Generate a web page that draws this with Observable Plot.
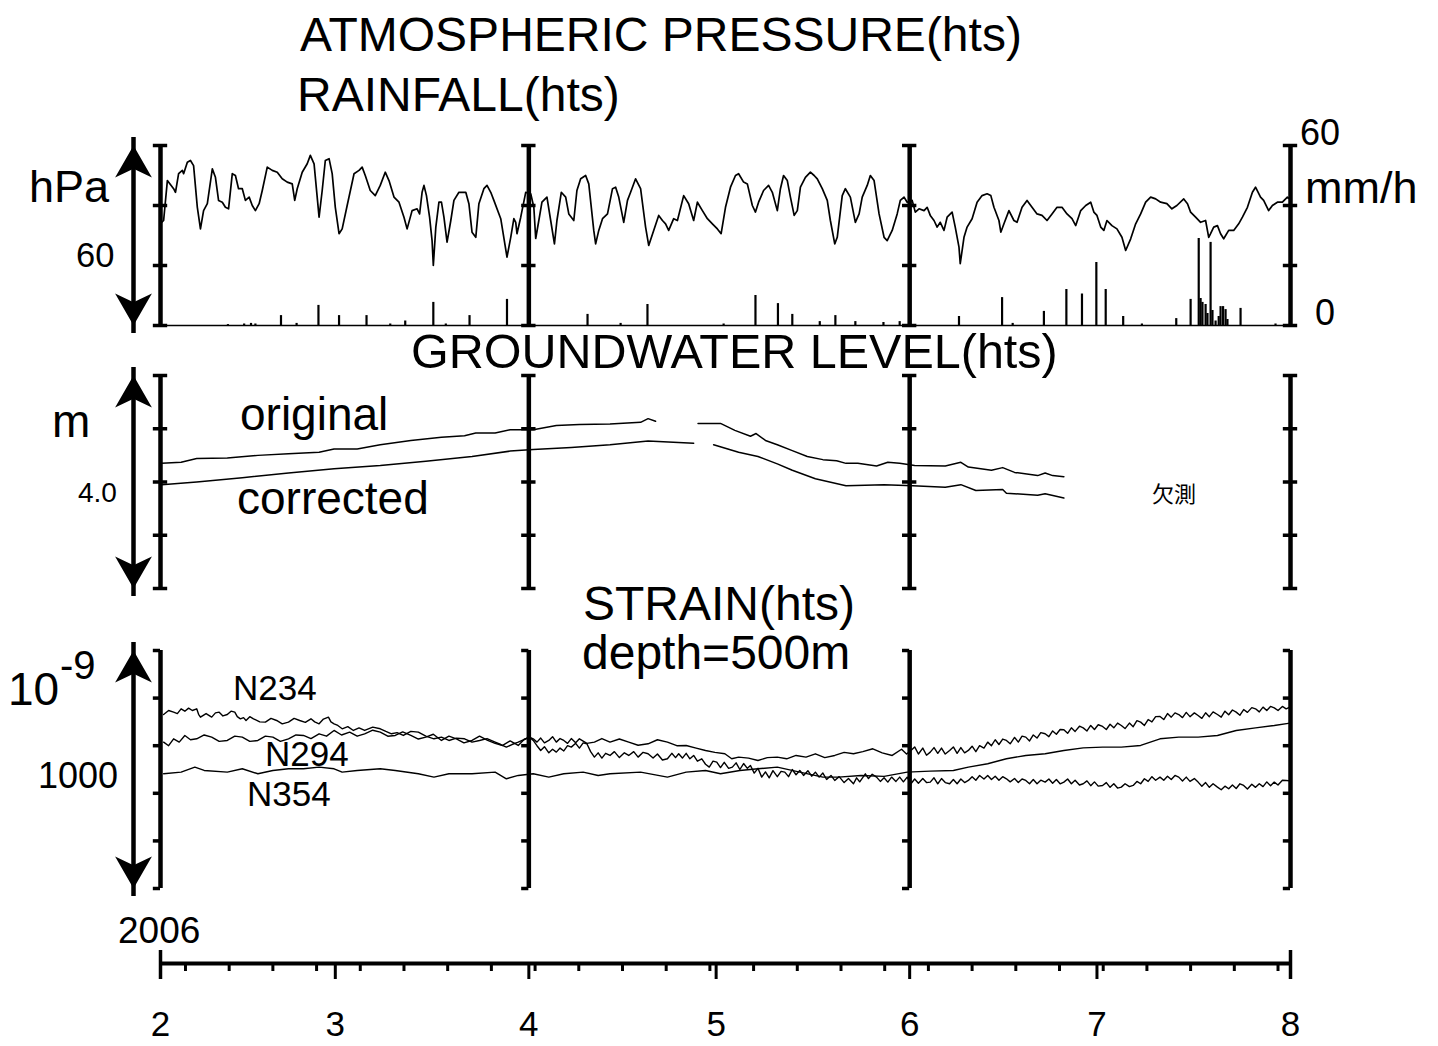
<!DOCTYPE html>
<html><head><meta charset="utf-8">
<script src="https://cdn.jsdelivr.net/npm/d3@7"></script>
<script src="https://cdn.jsdelivr.net/npm/@observablehq/plot@0.6"></script>
<style>
body{margin:0;background:#fff;}
#page{position:relative;width:1438px;height:1046px;overflow:hidden;font-family:"Liberation Sans",Arial,Helvetica,sans-serif;color:#000;background:#fff;}
.lbl{position:absolute;line-height:1;white-space:nowrap;}
</style></head><body><div id="page"></div>
<script>
// ---------- data ----------
const startDate = "2006-02-01";
const monthStarts = ["2006-02-01","2006-03-01","2006-04-01","2006-05-01","2006-06-01","2006-07-01","2006-08-01"];
const monthLabels = ["2","3","4","5","6","7","8"];
const barDays = [0, 59, 120, 181];          // Feb 1, Apr 1, Jun 1, Aug 1
const pressureTicks = [970, 990, 1010, 1030]; // hPa (span 60)
const rainTicks = [0, 60];                    // mm/h
const gwTicks = [0, 1, 2, 3, 4];              // m
const strainTicks = [0, 200, 400, 600, 800, 1000]; // 1e-9

// [days since Feb 1, hPa]
const pressure = [[0,1004],[0.5,1005],[1.1,1018.3],[2.1,1015.6],[2.4,1014.4],[2.9,1020.6],[3.5,1021.7],[3.7,1020.6],[4.3,1024.4],[4.8,1025],[5.3,1023.3],[5.9,1009.4],[6.4,1002.2],[6.9,1008.3],[7.5,1010.6],[8.3,1022.2],[8.8,1019.4],[9.3,1011.7],[9.9,1011.1],[10.4,1009.4],[10.9,1008.9],[11.5,1020.6],[12.0,1020],[12.5,1015.6],[13.1,1015.6],[13.6,1011.7],[14.2,1012.8],[14.7,1010],[15.2,1008.3],[15.8,1010.6],[16.3,1015],[17.1,1022.8],[17.9,1021.7],[18.7,1021.1],[19.5,1018.9],[20.3,1017.8],[21.1,1017.2],[21.5,1011.7],[21.9,1015.6],[22.7,1021.1],[23.5,1023.9],[24.0,1026.7],[24.6,1023.9],[25.4,1006.1],[25.9,1015],[26.4,1025],[27.0,1025.6],[27.5,1020.6],[28.0,1009.4],[28.6,1000.6],[29.1,1002.2],[29.9,1010],[31.0,1020.6],[31.8,1021.7],[32.3,1022.8],[32.8,1020],[33.6,1015],[34.4,1013.3],[35.2,1016.7],[36.0,1021.1],[36.6,1018.3],[37.4,1012.8],[38.2,1011.1],[39.0,1006.1],[39.5,1002.2],[40.3,1008.3],[41.1,1008.9],[41.5,1007.2],[41.9,1014.4],[42.2,1016.7],[42.6,1013.3],[43.1,1006.1],[43.5,998.3],[43.7,990],[44.1,1002.8],[44.6,1011.1],[45.0,1011.1],[45.4,1006.1],[45.9,997.8],[46.5,1005],[47.0,1011.7],[47.8,1014.4],[48.9,1014.4],[49.4,1010.6],[49.9,1001.1],[50.5,999.4],[51.0,1010.6],[51.8,1015.6],[52.3,1016.7],[52.9,1014.4],[53.4,1011.7],[54.5,1005.6],[55.5,992.8],[56.1,999.4],[56.6,1005.6],[56.9,1004.4],[57.1,1000.6],[57.7,1006.1],[58.5,1014.4],[59.3,1013.9],[59.8,1009.4],[60.1,999],[60.6,1005],[61.1,1011.1],[61.9,1012.8],[62.5,1005],[63.1,997.2],[63.5,1005],[64.2,1014.4],[64.9,1012.8],[65.4,1007.2],[66.2,1005],[66.7,1015],[67.3,1018.9],[68.1,1020],[68.6,1017.2],[69.4,1001.7],[69.7,997.2],[70.2,1001.7],[70.8,1005.6],[71.6,1007.2],[72.4,1015.6],[72.9,1016.1],[73.4,1012.8],[74.2,1004.4],[74.8,1011.7],[75.3,1014.4],[76.1,1018.9],[76.9,1015.6],[77.7,1002.8],[78.2,996.7],[79.0,1001.7],[79.8,1006.7],[80.4,1005],[80.9,1003.9],[81.4,1001.7],[82.2,1005.6],[82.8,1005],[83.8,1013.3],[84.6,1010.6],[85.4,1005],[86.0,1011.1],[86.8,1008.3],[87.6,1005.6],[88.4,1003.9],[89.2,1002.2],[89.8,1000.6],[90.5,1009.4],[91.3,1016.1],[92.1,1020],[92.6,1020.6],[93.4,1017.8],[94.0,1017.2],[94.8,1010],[95.3,1007.8],[95.8,1011.1],[96.6,1015],[97.4,1016.7],[98.0,1014.4],[98.8,1008.3],[99.3,1015.6],[99.8,1020],[100.4,1018.3],[100.9,1012.8],[101.5,1006.7],[102.0,1008.3],[102.5,1016.1],[103.3,1019.4],[104.1,1021.1],[104.7,1020],[105.2,1018.9],[106.0,1015.6],[106.8,1011.7],[107.3,1005],[108.0,997.2],[108.4,999.4],[109.2,1013.3],[109.7,1015.6],[110.5,1012.8],[111.3,1004.4],[111.9,1007.2],[112.4,1012.8],[113.2,1016.7],[113.7,1020],[114.3,1018.3],[115.1,1007.2],[115.9,999.4],[116.4,998.3],[117.2,1001.7],[118.0,1007.2],[118.5,1011.7],[119.1,1012.8],[119.6,1011.1],[120.4,1011.7],[120.9,1007.8],[121.5,1008.9],[122.3,1008.3],[122.8,1009.4],[123.3,1006.7],[123.9,1005],[124.4,1002.8],[124.9,1004.4],[125.5,1001.7],[126.0,1006.1],[126.8,1007.8],[127.3,1002.8],[127.9,996.1],[128.1,990.6],[128.7,999.4],[129.2,1002.8],[130.0,1005.6],[130.8,1011.1],[131.6,1013.3],[132.4,1013.9],[133.0,1013.3],[133.5,1009.4],[134.3,1005],[134.6,1001.1],[135.1,1003.9],[135.9,1008.3],[136.7,1005],[137.2,1004.4],[138.0,1009.4],[138.8,1011.7],[139.6,1009.4],[140.4,1007.2],[141.2,1006.7],[142.0,1005],[142.8,1007.2],[143.6,1009.4],[144.4,1009.4],[145.2,1007.2],[146.0,1005.6],[146.6,1003.3],[147.4,1008.3],[148.2,1010],[149.0,1011.1],[149.5,1007.8],[150.0,1006.7],[150.6,1002.8],[151.1,1001.7],[151.6,1005],[152.4,1003.3],[153.2,1002.2],[154.0,999.4],[154.6,995],[155.4,998.9],[156.2,1003.9],[157.0,1007.2],[157.8,1011.1],[158.6,1012.8],[159.4,1012.2],[160.2,1011.1],[161.2,1010.6],[162.0,1008.9],[162.8,1010],[163.9,1012.2],[164.5,1010.6],[165.0,1007.8],[165.8,1006.1],[166.6,1004.4],[167.4,1005],[167.9,999.4],[168.2,1000.6],[168.7,1002.8],[169.3,1003.3],[169.8,1000.6],[170.3,998.9],[171.1,1001.7],[171.9,1001.7],[172.7,1003.9],[173.3,1006.1],[174.1,1009.4],[174.9,1014.4],[175.4,1016.1],[176.2,1012.8],[176.7,1011.7],[177.5,1008.3],[178.1,1010],[178.9,1011.1],[179.7,1011.1],[180.5,1012.8],[181,1012]];

// [days since Feb 1, mm/h]
const rainfall = [[10.8,0.3],[13.4,0.5],[14.5,0.7],[15.2,0.5],[19.3,3.3],[21.8,0.7],[25.3,6.7],[28.6,3.3],[33.0,3.3],[36.8,0.5],[39.2,1.5],[43.7,7.7],[45.7,0.5],[49.5,3.3],[55.5,8.7],[68.4,3.7],[73.7,0.7],[78.0,7],[90.2,0.5],[95.3,10],[98.9,7.3],[101.2,3.7],[105.6,1.3],[108.1,3.3],[111.3,1.3],[115.8,1],[118.4,1.3],[127.9,3],[134.8,9.3],[136.5,0.7],[141.5,4.7],[145.1,12],[147.6,10.5],[149.9,21],[151.4,12],[154.2,3],[157.2,0.5],[162.7,2.3],[165.0,8.7],[166.3,29],[166.6,9],[166.9,7.7],[167.4,7],[167.7,4],[168.2,27.7],[168.5,5],[169.0,1.5],[169.5,3],[169.8,6.3],[170.2,6.3],[170.6,5.3],[170.9,2],[173.0,5.7],[178.6,0.5]];

// [days since Feb 1, m] (null = gap)
const gwOriginal = [[0.2,2.35],[3.3,2.37],[5.8,2.44],[10.7,2.45],[15.6,2.50],[20.5,2.53],[25.4,2.56],[27.8,2.62],[31.5,2.62],[35.2,2.70],[40.1,2.78],[45.0,2.84],[48.7,2.87],[50.5,2.92],[53.6,2.92],[56.0,2.98],[59.7,2.98],[63.4,3.06],[67.1,3.08],[72.0,3.09],[76.9,3.12],[78.1,3.19],[79.3,3.14],[82,null],[86.1,3.10],[89.7,3.10],[92.0,2.97],[94.5,2.86],[95.4,2.91],[96.9,2.78],[98.8,2.70],[101.2,2.59],[103.6,2.48],[106.1,2.42],[108.3,2.40],[109.8,2.35],[111.7,2.35],[114.7,2.30],[116.5,2.37],[118.4,2.35],[120.8,2.31],[125.7,2.30],[128.2,2.37],[129.4,2.28],[133.1,2.22],[134.9,2.27],[136.8,2.18],[140.5,2.12],[141.7,2.17],[142.9,2.12],[144.7,2.10]];
const gwCorrected = [[0.2,1.95],[5.8,2.00],[13.1,2.08],[20.5,2.17],[27.8,2.25],[35.2,2.31],[42.5,2.39],[49.9,2.48],[56.0,2.58],[59.7,2.61],[65.8,2.65],[72.0,2.70],[78.1,2.77],[85.4,2.73],[87,null],[88.6,2.70],[92.6,2.56],[95.7,2.48],[98.8,2.34],[101.2,2.22],[104.9,2.06],[109.8,1.93],[115.9,1.95],[120.5,1.93],[125.7,1.90],[128.2,1.95],[130.6,1.84],[134.9,1.86],[135.5,1.79],[140.5,1.75],[141.7,1.78],[144.7,1.70]];

// [days since Feb 1, strain 1e-9]
const n234 = [[0.5,731],[1.3,748],[2.1,741],[2.7,735],[3.3,755],[3.9,745],[4.5,758],[5.1,748],[5.8,755],[6.1,732],[6.4,720],[7.3,735],[8.2,720],[8.8,738],[9.4,741],[10.0,725],[10.7,731],[11.3,745],[11.9,741],[12.3,722],[12.8,713],[13.3,718],[13.7,706],[14.3,722],[14.9,713],[15.9,700],[16.8,699],[17.7,715],[18.6,706],[19.5,692],[20.5,699],[21.4,715],[22.3,706],[23.2,698],[24.1,713],[24.7,700],[25.4,692],[26.1,712],[26.9,720],[27.3,700],[27.8,692],[28.4,685],[29.1,671],[30.0,680],[30.9,664],[31.8,675],[32.7,664],[34.0,678],[35.2,671],[36.1,660],[37.0,650],[37.9,655],[38.9,643],[40.1,660],[41.3,657],[42.5,640],[43.8,629],[45.0,636],[46.2,622],[47.4,632],[48.7,629],[49.9,615],[51.1,622],[52.3,630],[53.6,615],[54.5,605],[55.4,594],[56.3,605],[57.3,615],[58.2,626],[59.1,636],[59.7,622],[60.3,600],[60.9,580],[61.5,596],[62.2,570],[62.8,585],[63.4,573],[64.0,590],[64.6,578],[65.2,600],[65.8,594],[66.5,610],[67.1,590],[67.7,612],[68.3,608],[68.9,575],[69.5,552],[70.1,570],[70.7,548],[71.3,568],[72.0,559],[72.7,575],[73.5,550],[74.3,570],[75.0,559],[75.8,575],[76.5,552],[77.3,572],[78.1,566],[78.9,548],[79.6,565],[80.4,540],[81.2,545],[81.9,568],[82.5,550],[83.0,566],[83.6,548],[84.2,568],[84.8,545],[85.4,559],[86.0,535],[86.7,545],[87.3,522],[87.9,510],[88.5,535],[89.1,531],[89.7,508],[90.3,530],[91.0,505],[91.6,510],[92.2,528],[92.8,500],[93.4,525],[94.0,505],[94.5,517],[95.1,485],[95.7,505],[96.3,468],[96.9,490],[97.5,465],[98.1,495],[98.8,470],[99.4,492],[100.0,489],[100.6,470],[101.2,500],[101.8,478],[102.4,496],[103.0,475],[103.7,495],[104.3,472],[104.9,489],[105.5,468],[106.1,485],[106.7,458],[107.4,475],[108.0,454],[108.7,470],[109.5,445],[110.2,462],[111.0,440],[111.5,465],[112.0,448],[112.9,482],[113.4,462],[114.0,480],[114.7,468],[115.3,450],[115.9,465],[116.5,447],[117.1,468],[117.8,450],[118.4,468],[119.0,448],[119.6,468],[120.2,440],[120.8,460],[121.4,442],[122.1,462],[122.7,445],[123.3,447],[123.9,465],[124.5,440],[125.1,462],[125.7,445],[126.4,440],[127.0,458],[127.6,440],[128.2,460],[128.8,445],[129.4,454],[130.0,470],[130.6,455],[131.2,475],[131.9,460],[132.5,475],[133.1,458],[133.7,472],[134.3,455],[134.9,470],[135.5,461],[136.1,448],[136.8,462],[137.4,445],[138.0,460],[138.6,454],[139.2,440],[139.8,458],[140.4,440],[141.0,455],[141.7,447],[142.3,460],[142.9,442],[143.5,458],[144.1,440],[144.7,447],[145.3,460],[145.9,440],[146.5,455],[147.2,435],[147.8,440],[148.4,452],[149.0,432],[149.6,448],[150.2,430],[150.9,433],[151.5,445],[152.1,425],[152.7,440],[153.3,422],[153.9,426],[154.5,440],[155.2,428],[155.8,433],[156.4,450],[157.0,440],[157.6,461],[158.2,450],[158.8,470],[159.4,455],[160.1,468],[160.7,455],[161.3,472],[161.9,458],[162.5,475],[163.1,468],[163.7,452],[164.3,468],[164.9,450],[165.6,462],[166.2,447],[166.8,430],[167.4,445],[168.0,425],[168.6,440],[169.3,426],[169.9,415],[170.5,430],[171.1,419],[171.7,435],[172.3,420],[172.9,440],[173.5,433],[174.1,418],[174.8,438],[175.4,425],[176.0,440],[176.6,428],[177.2,448],[177.8,432],[178.4,447],[179.0,435],[179.7,455],[180.3,454],[181.0,452]];
const n294 = [[0.5,615],[1.3,600],[2.1,629],[3.0,615],[3.9,643],[4.8,625],[5.8,629],[7.0,645],[8.2,636],[9.4,618],[10.7,622],[11.9,640],[13.1,636],[14.3,618],[15.6,622],[16.8,640],[18.0,636],[19.2,618],[20.5,629],[21.7,645],[22.9,643],[24.1,630],[25.4,650],[26.6,640],[27.8,664],[29.0,645],[30.3,657],[31.5,640],[32.7,650],[34.0,665],[35.2,657],[36.4,640],[37.6,643],[38.8,658],[40.1,643],[41.3,628],[42.5,636],[43.7,648],[45.0,622],[46.2,640],[47.4,629],[48.6,612],[49.9,622],[51.1,640],[52.4,622],[53.6,610],[54.8,601],[56.0,620],[57.3,601],[58.2,625],[59.1,636],[59.7,629],[60.3,615],[60.9,632],[61.5,612],[62.2,622],[62.8,638],[63.4,615],[64.0,630],[64.6,622],[65.2,610],[65.8,630],[66.5,612],[67.1,629],[68.3,610],[69.5,615],[70.7,630],[72.0,615],[73.5,628],[75.0,615],[76.5,602],[78.1,608],[79.6,625],[81.2,615],[82.7,600],[84.2,601],[85.8,590],[87.3,580],[88.8,572],[90.4,566],[91.5,545],[92.6,552],[94.2,548],[95.7,538],[97.2,550],[98.8,552],[100.3,545],[101.8,559],[103.4,552],[104.9,566],[106.4,550],[108.0,559],[109.5,572],[111.0,566],[112.5,575],[114.1,587],[115.6,570],[117.2,559],[118.7,585],[119.5,565],[120.2,580],[120.8,595],[121.4,565],[122.1,590],[122.7,560],[123.3,573],[123.9,592],[124.5,568],[125.1,590],[125.7,565],[126.4,580],[127.0,595],[127.6,568],[128.2,592],[128.8,570],[129.4,580],[130.0,598],[130.6,575],[131.2,600],[131.9,590],[132.5,615],[133.1,600],[133.7,625],[134.3,605],[134.9,628],[135.5,622],[136.1,608],[136.8,635],[137.4,615],[138.0,640],[138.6,636],[139.2,620],[139.8,645],[140.4,632],[141.0,655],[141.7,650],[142.3,638],[142.9,662],[143.5,648],[144.1,668],[144.7,667],[145.3,652],[145.9,675],[146.5,660],[147.2,682],[147.8,675],[148.4,662],[149.0,685],[149.6,668],[150.2,688],[150.9,681],[151.5,668],[152.1,690],[152.7,675],[153.3,695],[153.9,685],[154.5,672],[155.2,695],[155.8,680],[156.4,705],[157.0,699],[157.6,685],[158.2,710],[158.8,700],[159.4,722],[160.1,723],[160.7,710],[161.3,735],[161.9,720],[162.5,738],[163.1,731],[163.7,718],[164.3,740],[164.9,722],[165.6,738],[166.2,727],[166.8,715],[167.4,738],[168.0,722],[168.6,742],[169.3,731],[169.9,720],[170.5,745],[171.1,730],[171.7,750],[172.3,741],[172.9,728],[173.5,752],[174.1,740],[174.8,760],[175.4,755],[176.0,742],[176.6,762],[177.2,748],[177.8,765],[178.4,759],[179.0,748],[179.7,765],[180.3,755],[180.9,762]];
const n354 = [[0.5,482],[3.3,489],[5.5,510],[7.0,496],[10.7,489],[13.1,503],[15.6,482],[18.0,496],[20.5,503],[22.9,503],[25.4,510],[27.8,503],[29.1,489],[31.5,496],[35.2,503],[37.6,496],[41.3,482],[43.8,468],[46.2,482],[49.9,482],[53.6,489],[55.4,461],[57.3,475],[59.7,482],[62.2,468],[64.6,482],[67.7,489],[70.1,475],[72.0,482],[76.9,489],[81.2,468],[84.2,489],[87.3,496],[89.7,482],[92.8,496],[95.7,503],[98.8,510],[102.4,489],[106.1,468],[108.6,468],[112.2,475],[115.9,471],[119.6,489],[123.3,493],[127.0,496],[129.4,510],[132.5,524],[135.5,545],[138.6,559],[141.7,566],[144.7,580],[147.8,591],[150.9,594],[153.9,594],[157.0,601],[160.1,629],[163.1,636],[166.2,636],[169.3,643],[172.3,664],[175.4,675],[178.4,685],[180.9,695]];

// ---------- helpers ----------
const DAY = 864e5;
const t0 = Date.parse(startDate + "T00:00:00Z");
const toDate = d => new Date(t0 + d * DAY);
const xDomain = [toDate(0), toDate(181)];
const W = 1438, ML = 160, MR = 148;
const page = document.getElementById("page");
const FONT = '"Liberation Sans", Arial, Helvetica, sans-serif';

// notched arrowhead symbol, tip at the anchor point, body extending downward
const arrowHead = {
  draw(ctx, size) {
    const r = Math.sqrt(size / Math.PI);
    ctx.moveTo(0, 0);
    ctx.lineTo(1.15 * r, 2 * r);
    ctx.lineTo(0, 1.45 * r);
    ctx.lineTo(-1.15 * r, 2 * r);
    ctx.closePath();
  }
};

function frameMarks(ticks, side) {
  const w = 1.15;
  const caps = [];
  for (const b of barDays) for (const t of ticks)
    caps.push({y: t, x1: toDate(b - w), x2: toDate(side === "both" ? b + w : b)});
  return [
    Plot.ruleX(barDays.map(toDate), {y1: ticks[0], y2: ticks[ticks.length - 1], strokeWidth: 4.5, stroke: "#000"}),
    Plot.ruleY(caps, {y: "y", x1: "x1", x2: "x2", strokeWidth: 3.5, stroke: "#000"})
  ];
}
function arrowMarks(lo, hi) {
  const x0 = toDate(0);
  return [
    Plot.ruleX([x0], {y1: lo, y2: hi, dx: -27, strokeWidth: 4.5, stroke: "#000", insetTop: 8, insetBottom: 8}),
    Plot.dot([x0], {x: d => d, y: hi, dx: -27, symbol: arrowHead, r: 16, fill: "#000", stroke: "none"}),
    Plot.dot([x0], {x: d => d, y: lo, dx: -27, symbol: arrowHead, r: 16, fill: "#000", stroke: "none", rotate: 180})
  ];
}
function place(svg, top) {
  svg.style.position = "absolute";
  svg.style.left = "0px";
  svg.style.top = top + "px";
  svg.style.background = "transparent";
  svg.style.overflow = "visible";
  page.appendChild(svg);
}
function panel(top, height, mt, mb, yDomain, marks) {
  const svg = Plot.plot({
    width: W, height, marginLeft: ML, marginRight: MR, marginTop: mt, marginBottom: mb,
    x: {type: "utc", domain: xDomain, axis: null},
    y: {domain: yDomain, axis: null},
    style: {fontFamily: FONT, background: "transparent"},
    marks
  });
  place(svg, top);
}
const X = d => toDate(d[0]);
const Y = d => d[1];

// ---------- panel 1: pressure + rainfall ----------
panel(120, 220, 25, 15, [970, 1030], [
  ...frameMarks(pressureTicks, "both"),
  ...arrowMarks(970, 1030),
  Plot.line(pressure, {x: X, y: Y, stroke: "#000", strokeWidth: 1.7})
]);
panel(120, 220, 25, 15, [0, 60], [
  Plot.ruleY(rainTicks.slice(0, 1), {stroke: "#000", strokeWidth: 1.5}),
  Plot.ruleX(rainfall, {x: X, y1: 0, y2: Y, stroke: "#000", strokeWidth: 2.2})
]);

// ---------- panel 2: groundwater ----------
panel(360, 240, 15, 12, [0, 4], [
  ...frameMarks(gwTicks, "both"),
  ...arrowMarks(0, 4),
  Plot.line(gwOriginal, {x: X, y: Y, stroke: "#000", strokeWidth: 1.5}),
  Plot.line(gwCorrected, {x: X, y: Y, stroke: "#000", strokeWidth: 1.5})
]);

// ---------- panel 3: strain ----------
panel(630, 270, 20, 12, [0, 1000], [
  ...frameMarks(strainTicks, "left"),
  ...arrowMarks(0, 1000),
  Plot.line(n234, {x: X, y: Y, stroke: "#000", strokeWidth: 1.4}),
  Plot.line(n294, {x: X, y: Y, stroke: "#000", strokeWidth: 1.4}),
  Plot.line(n354, {x: X, y: Y, stroke: "#000", strokeWidth: 1.4})
]);

// ---------- time axis ----------
const monthDates = monthStarts.map(s => new Date(s + "T00:00:00Z"));
const weekDates = d3.utcSunday.range(xDomain[0], xDomain[1]);
const axisSvg = Plot.plot({
  width: W, height: 146, marginLeft: ML, marginRight: MR, marginTop: 0, marginBottom: 83,
  x: {type: "utc", domain: xDomain},
  y: {domain: [0, 63], axis: null},
  style: {fontFamily: FONT, background: "transparent"},
  marks: [
    Plot.ruleY([0], {stroke: "#000", strokeWidth: 4}),
    Plot.ruleX(weekDates, {y1: 0, y2: -8, stroke: "#000", strokeWidth: 3}),
    Plot.ruleX(monthDates, {y1: 0, y2: -16, stroke: "#000", strokeWidth: 3}),
    Plot.ruleX([xDomain[0], xDomain[1]], {y1: 13, y2: -16, stroke: "#000", strokeWidth: 3.5}),
    Plot.axisX(monthDates, {tickSize: 0, tickPadding: 48, fontSize: 35,
      tickFormat: d => monthLabels[monthDates.findIndex(m => +m === +d)], stroke: "none", fill: "#000"})
  ]
});
place(axisSvg, 900);

// ---------- text ----------
function label(text, left, top, size, extra = "") {
  const el = document.createElement("div");
  el.className = "lbl";
  el.textContent = text;
  el.style.cssText += `left:${left}px;top:${top}px;font-size:${size}px;${extra}`;
  page.appendChild(el);
  return el;
}
label("ATMOSPHERIC PRESSURE(hts)", 300, 11, 48);
label("RAINFALL(hts)", 297, 71, 48);
label("GROUNDWATER LEVEL(hts)", 411, 327, 48.5);
label("STRAIN(hts)", 583, 580, 48);
label("depth=500m", 582, 629, 48);
label("hPa", 29, 164, 45);
label("60", 76, 238, 34.5);
label("mm/h", 1305, 165, 45);
label("60", 1300, 115, 36);
label("0", 1315, 295, 36);
label("m", 52, 398, 46);
label("4.0", 78, 479, 28);
label("original", 240, 391, 46);
label("corrected", 237, 475, 46);
label("欠測", 1152, 481, 22, 'font-family:"Noto Sans CJK JP",sans-serif;');
label("10", 8, 666, 46);
label("-9", 60, 645, 40);
label("1000", 38, 758, 36);
label("N234", 233, 670, 35);
label("N294", 265, 736, 35);
label("N354", 247, 776, 35);
label("2006", 118, 912, 37);
</script></body></html>
